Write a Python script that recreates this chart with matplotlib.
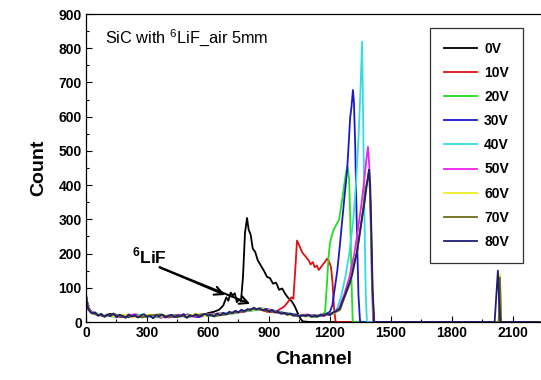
import matplotlib
matplotlib.use("Agg")
import matplotlib.pyplot as plt
from matplotlib.ticker import MultipleLocator

plt.rcParams['font.family'] = ['Liberation Sans', 'DejaVu Sans']

labels = ['0V', '10V', '20V', '30V', '40V', '50V', '60V', '70V', '80V']
colors = ['#000000', '#e01010', '#22dd22', '#1a1acc', '#33dddd', '#ee22ee', '#eeee22', '#6b6b1a', '#1e1e78']

# 0V
ch_0 = [0, 10, 20, 40, 60, 90, 120, 150, 180, 210, 240, 270, 300, 330, 360, 390, 420, 450, 480, 510,
        540, 570, 600, 630, 655, 675, 690, 700, 712, 722, 732, 742, 752, 762, 772, 782, 792, 800, 810,
        820, 832, 845, 860, 875, 890, 905, 920, 935, 950, 965, 980, 995, 1010, 1025, 1040, 1055, 1065,
        1100, 1400, 1800, 2230]
ct_0 = [80, 45, 32, 25, 22, 18, 24, 15, 20, 14, 22, 16, 19, 13, 21, 15, 20, 14, 22, 17,
        23, 18, 26, 30, 36, 48, 72, 62, 86, 78, 84, 58, 66, 60, 130, 260, 304, 270, 255,
        215, 205, 180, 165, 150, 132, 128, 112, 115, 94, 98, 82, 70, 62, 48, 28, 10, 2,
        0, 0, 0, 0]

# 10V
ch_10 = [0, 10, 25, 50, 90, 130, 170, 210, 250, 290, 330, 370, 410, 450, 490, 530, 570, 610, 650,
         690, 730, 770, 810, 850, 890, 930, 955, 975, 995, 1010, 1020, 1030, 1038, 1046, 1055, 1065,
         1075, 1085, 1095, 1105, 1115, 1125, 1135, 1145, 1155, 1165, 1175, 1185, 1195, 1205, 1212,
         1220, 1228, 1300, 1600, 2230]
ct_10 = [70, 40, 28, 22, 17, 21, 14, 19, 22, 15, 20, 13, 18, 21, 16, 19, 22, 18, 25,
         24, 28, 30, 34, 38, 30, 28, 38, 45, 60, 72, 68, 160, 238, 228, 215, 202,
         195, 188, 180, 168, 175, 160, 165, 152, 160, 168, 175, 185, 178, 160, 120,
         40, 0, 0, 0, 0]

# 20V
ch_20 = [0, 10, 25, 55, 95, 140, 185, 230, 275, 320, 365, 410, 455, 500, 545, 590, 635, 680, 725,
         770, 815, 860, 905, 950, 995, 1040, 1085, 1130, 1160, 1176, 1185, 1193, 1200, 1210, 1220,
         1232, 1245, 1258, 1270, 1280, 1286, 1294, 1300, 1306, 1312, 1400, 1800, 2230]
ct_20 = [72, 42, 30, 24, 16, 22, 15, 20, 13, 19, 22, 14, 18, 21, 15, 20, 17, 24, 26,
         30, 33, 38, 34, 28, 25, 20, 17, 15, 18, 30, 110, 190, 230, 255, 272,
         285, 300, 350, 400, 440, 455, 420, 300, 120, 0, 0, 0, 0]

# 30V
ch_30 = [0, 10, 25, 55, 95, 140, 185, 230, 275, 320, 365, 410, 455, 500, 545, 590, 635, 680, 725,
         770, 815, 860, 905, 950, 995, 1040, 1085, 1130, 1175, 1200, 1212, 1224, 1236, 1248, 1260,
         1272, 1284, 1292, 1299, 1306, 1313, 1318, 1324, 1332, 1340, 1348, 1400, 1800, 2230]
ct_30 = [76, 44, 31, 23, 18, 21, 14, 19, 16, 21, 13, 20, 17, 22, 14, 19, 23, 25, 28,
         31, 36, 40, 36, 30, 24, 21, 18, 20, 22, 30, 50, 100, 150, 220, 295,
         370, 440, 520, 595, 630, 678, 640, 520, 280, 80, 0, 0, 0, 0]

# 40V
ch_40 = [0, 10, 25, 55, 95, 140, 185, 230, 275, 320, 365, 410, 455, 500, 545, 590, 635, 680, 725,
         770, 815, 860, 905, 950, 995, 1040, 1085, 1130, 1175, 1215, 1235, 1255, 1275, 1295, 1315,
         1330, 1342, 1350, 1358, 1364, 1370, 1376, 1382, 1450, 1800, 2230]
ct_40 = [74, 43, 29, 25, 19, 15, 21, 17, 22, 14, 19, 16, 21, 15, 22, 18, 20, 26, 24,
         33, 34, 41, 32, 27, 22, 19, 21, 16, 20, 24, 40, 75, 130, 200, 300,
         420, 560, 680, 819, 560, 300, 80, 0, 0, 0, 0]

# 50V
ch_50 = [0, 10, 25, 55, 95, 140, 185, 230, 275, 320, 365, 410, 455, 500, 545, 590, 635, 680, 725,
         770, 815, 860, 905, 950, 995, 1040, 1085, 1130, 1175, 1220, 1245, 1270, 1295, 1320, 1340,
         1355, 1368, 1378, 1387, 1394, 1400, 1406, 1412, 1450, 1800, 2230]
ct_50 = [78, 46, 30, 22, 17, 20, 16, 22, 15, 20, 17, 13, 21, 18, 15, 23, 21, 23, 27,
         29, 37, 39, 35, 26, 23, 18, 22, 17, 19, 26, 40, 80, 130, 200, 280,
         345, 410, 470, 512, 450, 300, 120, 0, 0, 0, 0]

# 60V
ch_60 = [0, 10, 25, 55, 95, 140, 185, 230, 275, 320, 365, 410, 455, 500, 545, 590, 635, 680, 725,
         770, 815, 860, 905, 950, 995, 1040, 1085, 1130, 1175, 1220, 1249, 1275, 1298, 1316, 1333,
         1348, 1362, 1375, 1387, 1393, 1400, 1408, 1416, 1500, 2010, 2030, 2036, 2042, 2060, 2230]
ct_60 = [70, 41, 28, 24, 20, 16, 22, 14, 19, 21, 15, 20, 16, 19, 23, 17, 22, 24, 26,
         32, 35, 40, 33, 29, 21, 20, 16, 19, 21, 25, 38, 75, 118, 160, 212,
         270, 330, 385, 425, 440, 330, 120, 0, 0, 0, 0, 140, 0, 0, 0]

# 70V
ch_70 = [0, 10, 25, 55, 95, 140, 185, 230, 275, 320, 365, 410, 455, 500, 545, 590, 635, 680, 725,
         770, 815, 860, 905, 950, 995, 1040, 1085, 1130, 1175, 1220, 1249, 1275, 1298, 1316, 1333,
         1348, 1362, 1375, 1387, 1393, 1400, 1408, 1416, 1500, 2010, 2030, 2036, 2042, 2060, 2230]
ct_70 = [73, 43, 27, 21, 18, 23, 15, 18, 14, 20, 22, 15, 19, 14, 20, 24, 18, 21, 27,
         30, 38, 36, 31, 27, 24, 17, 20, 15, 22, 27, 35, 78, 112, 165, 205,
         265, 325, 390, 420, 445, 320, 110, 0, 0, 0, 0, 130, 0, 0, 0]

# 80V
ch_80 = [0, 5, 10, 20, 30, 45, 60, 75, 90, 105, 120, 135, 150, 165, 180, 195, 210, 225, 240, 255,
         270, 285, 300, 315, 330, 345, 360, 375, 390, 405, 420, 435, 450, 465, 480, 495, 510, 525,
         540, 555, 570, 585, 600, 615, 630, 645, 660, 675, 690, 705, 720, 735, 750, 765, 780, 795,
         810, 825, 840, 855, 870, 885, 900, 915, 930, 945, 960, 975, 990, 1005, 1020, 1035, 1050,
         1065, 1080, 1095, 1110, 1125, 1140, 1155, 1170, 1185, 1200, 1215, 1230, 1249, 1262, 1275,
         1287, 1298, 1310, 1322, 1333, 1342, 1352, 1362, 1370, 1380, 1387, 1392, 1398, 1404, 1410,
         1418, 1500, 2010, 2026, 2032, 2038, 2060, 2230]
ct_80 = [75, 55, 38, 30, 25, 28, 18, 24, 15, 22, 17, 25, 14, 21, 18, 12, 22, 16, 20, 13,
         19, 23, 15, 18, 11, 20, 16, 22, 13, 18, 21, 14, 19, 16, 23, 12, 20, 17,
         22, 15, 19, 24, 18, 21, 16, 25, 20, 27, 22, 30, 26, 33, 28, 36, 31, 38,
         35, 42, 37, 40, 34, 38, 31, 35, 28, 30, 24, 27, 21, 25, 18, 22, 16,
         20, 17, 21, 15, 19, 16, 22, 18, 24, 20, 28, 32, 40, 62, 80,
         100, 118, 140, 175, 205, 240, 280, 320, 350, 395, 425, 445, 400, 260, 90,
         0, 0, 0, 150, 60, 0, 0, 0]

series_ch = [ch_0, ch_10, ch_20, ch_30, ch_40, ch_50, ch_60, ch_70, ch_80]
series_ct = [ct_0, ct_10, ct_20, ct_30, ct_40, ct_50, ct_60, ct_70, ct_80]

x_ticks = [0, 300, 600, 900, 1200, 1500, 1800, 2100]
y_ticks = [0, 100, 200, 300, 400, 500, 600, 700, 800, 900]

fig = plt.figure(figsize=(5.41, 3.80), dpi=100)
ax = fig.add_axes([86/541, 58/380, 455/541, 308/380])

for chs, cts, lab, col in zip(series_ch, series_ct, labels, colors):
    ax.plot(chs, cts, color=col, lw=1.3, label=lab)

ax.set_xlim(0, 2238)
ax.set_ylim(0, 900)
ax.set_xticks(x_ticks)
ax.set_yticks(y_ticks)
ax.xaxis.set_minor_locator(MultipleLocator(150))
ax.yaxis.set_minor_locator(MultipleLocator(50))
ax.tick_params(which='both', direction='in', top=False, right=False)
ax.tick_params(which='major', length=4, width=0.8, labelsize=10, pad=3)
ax.tick_params(which='minor', length=2.5, width=0.8)
for lbl in ax.get_xticklabels() + ax.get_yticklabels():
    lbl.set_fontweight('bold')
ax.spines['right'].set_visible(False)
for s in ['left', 'bottom', 'top']:
    ax.spines[s].set_linewidth(0.9)

ax.set_xlabel('Channel', fontsize=14, fontweight='bold', labelpad=8)
ax.set_ylabel('Count', fontsize=14, fontweight='bold', labelpad=8)

ax.text(0.042, 0.925, r'SiC with $^{\mathregular{6}}$LiF_air 5mm', transform=ax.transAxes,
        fontsize=11.8, va='center', ha='left')

ax.text(0.100, 0.215, r'$^{\mathregular{6}}$LiF', transform=ax.transAxes,
        fontsize=12.5, fontweight='bold', va='center', ha='left')
for end in [(684, 79), (807, 53)]:
    ax.annotate('', xy=end, xytext=(362, 160),
                arrowprops=dict(arrowstyle='->,head_length=0.6,head_width=0.3', lw=1.5, color='black',
                                shrinkA=0, shrinkB=0))

leg = ax.legend(loc='upper right', bbox_to_anchor=(0.960, 0.955), borderaxespad=0,
                frameon=True, fancybox=False, edgecolor='black',
                prop={'weight': 'bold', 'size': 10}, handlelength=2.4, labelspacing=0.73,
                borderpad=1.0, handletextpad=0.5)
leg.get_frame().set_linewidth(0.9)

fig.savefig('out.png', dpi=100)
